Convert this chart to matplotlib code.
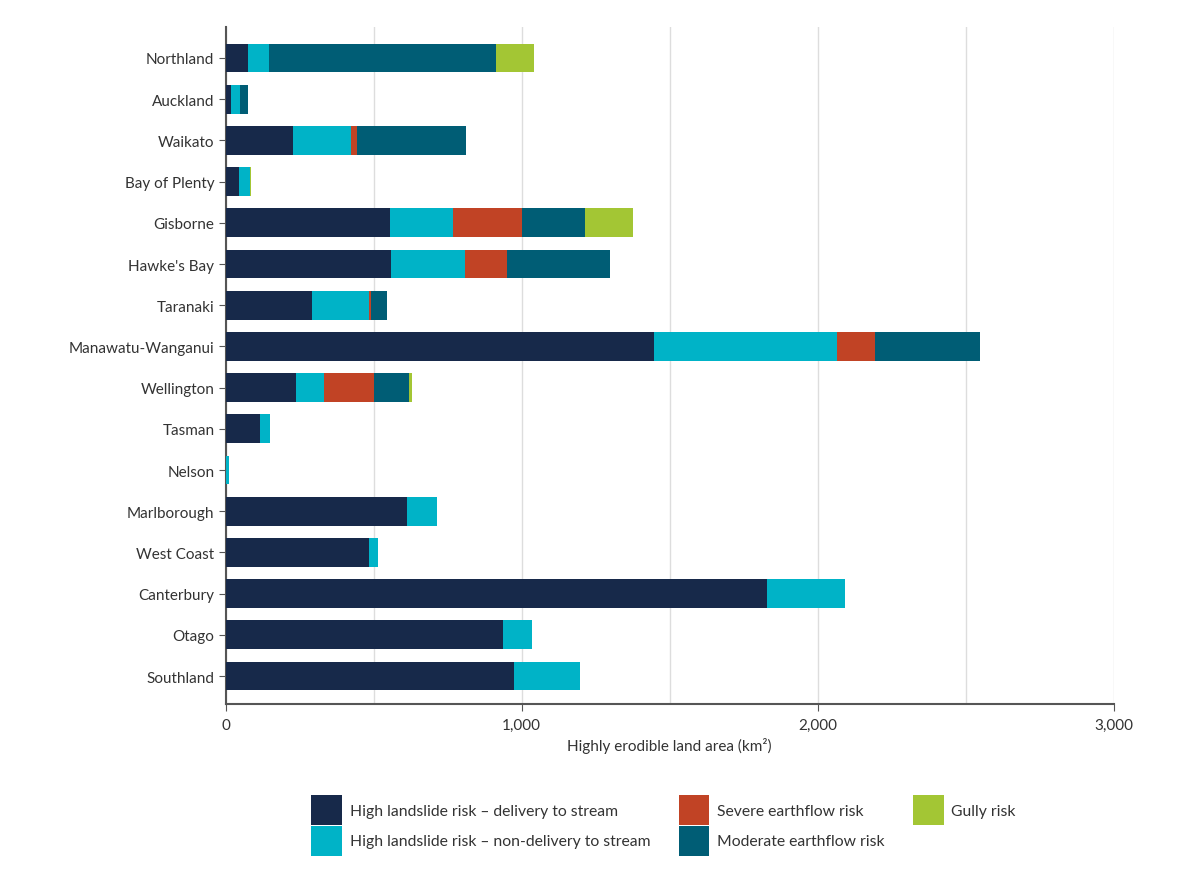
import matplotlib.pyplot as plt
from matplotlib.patches import Patch

plt.rcParams['font.family'] = ['Lato', 'DejaVu Sans']

regions = ['Northland', 'Auckland', 'Waikato', 'Bay of Plenty', 'Gisborne', "Hawke's Bay",
           'Taranaki', 'Manawatu-Wanganui', 'Wellington', 'Tasman', 'Nelson', 'Marlborough',
           'West Coast', 'Canterbury', 'Otago', 'Southland']

# km2 per risk class
delivery     = [74, 19, 229, 45, 555, 560, 291, 1447, 238, 115, 3, 614, 483, 1828, 937, 973]
non_delivery = [71, 28, 196, 37, 212, 250, 193, 617, 95, 36, 9, 101, 33, 264, 97, 225]
severe       = [0, 0, 20, 0, 235, 142, 6, 131, 167, 0, 0, 0, 0, 0, 0, 0]
moderate     = [767, 30, 367, 0, 213, 347, 54, 352, 121, 0, 0, 0, 0, 0, 0, 0]
gully        = [129, 0, 0, 3, 161, 0, 0, 0, 8, 0, 0, 0, 0, 0, 0, 0]

series = [
    ('High landslide risk \u2013 delivery to stream', delivery, '#17294a'),
    ('High landslide risk \u2013 non-delivery to stream', non_delivery, '#00b3c7'),
    ('Severe earthflow risk', severe, '#c14325'),
    ('Moderate earthflow risk', moderate, '#005d75'),
    ('Gully risk', gully, '#a3c634'),
]

fig = plt.figure(figsize=(12, 8.78), dpi=100)
ax = fig.add_axes([0.188, 0.197, 0.740, 0.771])

y = list(range(len(regions)))
left = [0] * len(regions)
for name, vals, col in series:
    ax.barh(y, vals, left=left, height=0.7, color=col, linewidth=0, zorder=3)
    left = [a + b for a, b in zip(left, vals)]

ax.set_xlim(0, 3000)
ax.set_ylim(15.68, -0.75)
ax.set_yticks(y)
ax.set_yticklabels(regions, fontsize=11, color='#333333')
ax.set_xticks([0, 1000, 2000, 3000])
ax.set_xticklabels(['0', '1,000', '2,000', '3,000'], fontsize=11, color='#333333')
ax.set_xticks([500, 1500, 2500], minor=True)
ax.grid(axis='x', which='both', color='#dddddd', linewidth=1, zorder=0)
ax.tick_params(axis='y', length=5, color='#555555', pad=3)
ax.tick_params(axis='x', which='major', length=5, color='#555555', pad=5)
ax.tick_params(axis='x', which='minor', length=0)

for s in ['top', 'right']:
    ax.spines[s].set_visible(False)
for s in ['left', 'bottom']:
    ax.spines[s].set_color('#555555')
    ax.spines[s].set_linewidth(1.5)

ax.set_xlabel('Highly erodible land area (km\u00b2)', fontsize=11, color='#333333', labelpad=4)

handles = [Patch(facecolor=c, edgecolor='none', label=n) for n, v, c in series]
fig.legend(handles=handles, loc='center', bbox_to_anchor=(0.553, 0.059),
           ncol=3, frameon=False, fontsize=11.3,
           handlelength=1.95, handleheight=2.56, labelspacing=0.06, handletextpad=0.5,
           columnspacing=1.8, labelcolor='#333333', borderpad=0)

fig.savefig('out.png', dpi=100, facecolor='white')
